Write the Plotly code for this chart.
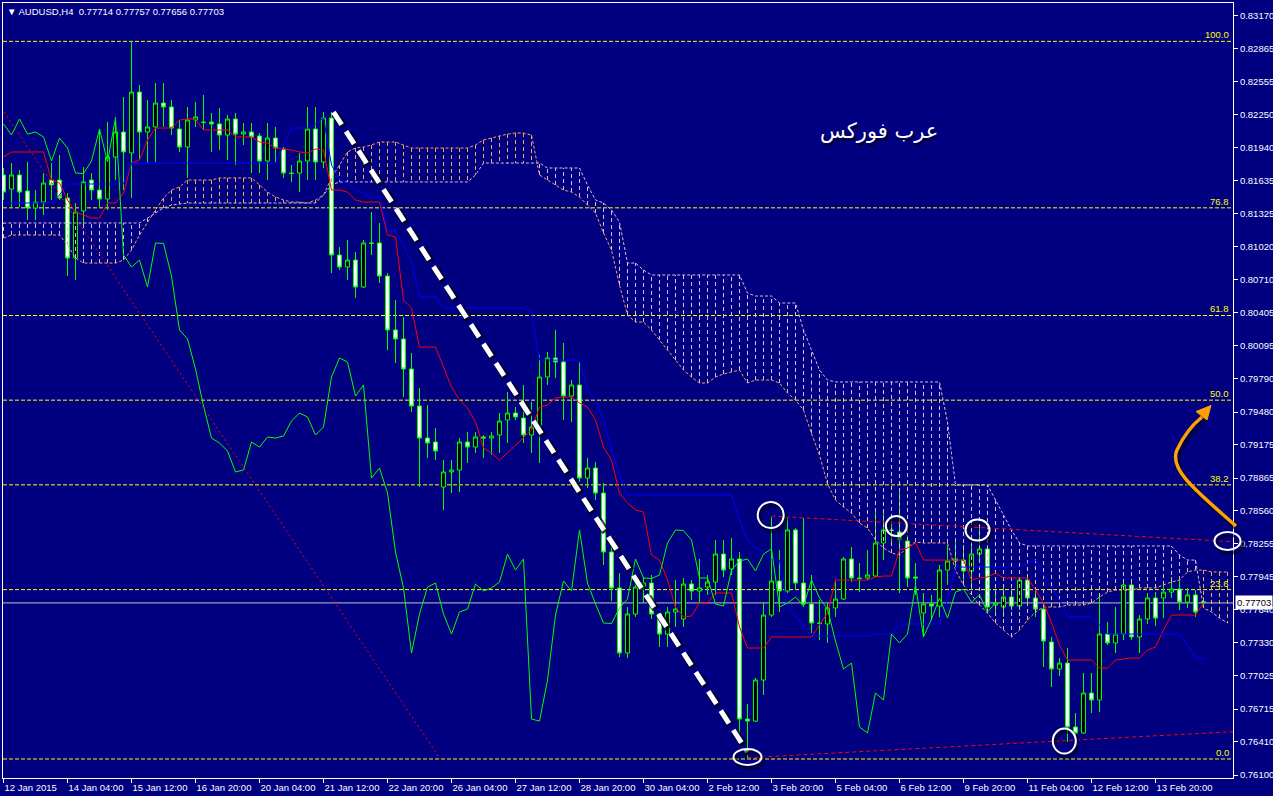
import plotly.graph_objects as go

# ---------------- data (AUDUSD H4) ----------------
bar_index = list(range(151))
x_tick_bars = list(range(0, 145, 8))
x_tick_labels = ["12 Jan 2015", "14 Jan 04:00", "15 Jan 12:00", "16 Jan 20:00", "20 Jan 04:00",
                 "21 Jan 12:00", "22 Jan 20:00", "26 Jan 04:00", "27 Jan 12:00", "28 Jan 20:00",
                 "30 Jan 04:00", "2 Feb 12:00", "3 Feb 20:00", "5 Feb 04:00", "6 Feb 12:00",
                 "9 Feb 20:00", "11 Feb 04:00", "12 Feb 12:00", "13 Feb 20:00"]

opens = [
    0.81687, 0.81556, 0.81687, 0.81538, 0.81380, 0.81435, 0.81640, 0.81640, 0.81473, 0.80914,
    0.81352, 0.81640, 0.81547, 0.81463, 0.81854, 0.82087, 0.81892, 0.82459, 0.82087, 0.82134,
    0.82357, 0.82320, 0.82115, 0.81947, 0.82199, 0.82180, 0.82180, 0.82162, 0.82059, 0.82208,
    0.82068, 0.82087, 0.82050, 0.81817, 0.82031, 0.81929, 0.81705, 0.81705, 0.81817, 0.82115,
    0.81808, 0.82217, 0.80942, 0.80830, 0.80895, 0.80644, 0.81054, 0.81054, 0.80746, 0.80244,
    0.80160, 0.79881, 0.79536, 0.79238, 0.79201, 0.78782, 0.78922, 0.78940, 0.79201, 0.79154,
    0.79248, 0.79238, 0.79266, 0.79406, 0.79471, 0.79424, 0.79266, 0.79350, 0.79806, 0.79983,
    0.79946, 0.79629, 0.79732, 0.78866, 0.78959, 0.78726, 0.78177, 0.77842, 0.77237, 0.77600,
    0.77851, 0.77888, 0.77600, 0.77413, 0.77618, 0.77553, 0.77879, 0.77814, 0.77851, 0.77898,
    0.78158, 0.78019, 0.78112, 0.76622, 0.76603, 0.76985, 0.77590, 0.77907, 0.77814, 0.78382,
    0.77888, 0.77693, 0.77516, 0.77507, 0.77656, 0.77739, 0.78112, 0.77935, 0.77935, 0.77953,
    0.78261, 0.78382, 0.78363, 0.78279, 0.77944, 0.77609, 0.77693, 0.77674, 0.78009, 0.78093,
    0.78102, 0.78000, 0.78158, 0.78205, 0.77683, 0.77665, 0.77758, 0.77674, 0.77916, 0.77749,
    0.77646, 0.77339, 0.77088, 0.77143, 0.76548, 0.76492, 0.76864, 0.76799, 0.77413, 0.77330,
    0.77413, 0.77870, 0.77386, 0.77553, 0.77749, 0.77749, 0.77804, 0.77832, 0.77711, 0.77777,
    0.77714]
highs = [
    0.81752, 0.81798, 0.81733, 0.81808, 0.81547, 0.81705, 0.81798, 0.81873, 0.81519, 0.81426,
    0.81761, 0.81705, 0.82106, 0.82180, 0.82227, 0.82413, 0.82934, 0.82525, 0.82385, 0.82543,
    0.82543, 0.82385, 0.82199, 0.82320, 0.82366, 0.82432, 0.82264, 0.82311, 0.82245, 0.82264,
    0.82171, 0.82171, 0.82078, 0.82171, 0.82134, 0.81947, 0.81780, 0.81892, 0.82320, 0.82320,
    0.82273, 0.82273, 0.81016, 0.81082, 0.80970, 0.81082, 0.81342, 0.81240, 0.80774, 0.80523,
    0.80365, 0.80030, 0.79704, 0.79545, 0.79331, 0.79033, 0.79033, 0.79238, 0.79294, 0.79294,
    0.79266, 0.79294, 0.79471, 0.79666, 0.79527, 0.79732, 0.79573, 0.80011, 0.80039, 0.80244,
    0.80123, 0.79778, 0.79946, 0.79052, 0.79015, 0.78819, 0.78223, 0.77981, 0.77665, 0.77944,
    0.77944, 0.77963, 0.77609, 0.77665, 0.77916, 0.77935, 0.77916, 0.78112, 0.77963, 0.78289,
    0.78289, 0.78307, 0.78177, 0.76762, 0.77004, 0.77711, 0.78503, 0.78195, 0.78503, 0.78400,
    0.78493, 0.77963, 0.77730, 0.77702, 0.77916, 0.78130, 0.78223, 0.78074, 0.78195, 0.78568,
    0.78568, 0.78428, 0.78754, 0.78335, 0.78074, 0.77795, 0.77777, 0.78056, 0.78242, 0.78289,
    0.78242, 0.78261, 0.78410, 0.78242, 0.77823, 0.77851, 0.77823, 0.77944, 0.77944, 0.77823,
    0.77665, 0.77386, 0.77190, 0.77283, 0.76678, 0.77050, 0.77050, 0.77777, 0.77525, 0.77665,
    0.77916, 0.77916, 0.77590, 0.77795, 0.77804, 0.77888, 0.77944, 0.77916, 0.77842, 0.77823,
    0.77757]
lows = [
    0.81454, 0.81389, 0.81389, 0.81268, 0.81268, 0.81314, 0.81454, 0.81454, 0.80746, 0.80709,
    0.81203, 0.81454, 0.81380, 0.81361, 0.81640, 0.81547, 0.81473, 0.81826, 0.81798, 0.81808,
    0.82134, 0.82059, 0.81901, 0.81659, 0.82134, 0.82106, 0.81901, 0.81919, 0.81826, 0.81780,
    0.81966, 0.81705, 0.81705, 0.81640, 0.81798, 0.81659, 0.81622, 0.81528, 0.81640, 0.81640,
    0.81752, 0.80774, 0.80802, 0.80709, 0.80542, 0.80635, 0.80942, 0.80681, 0.80057, 0.79936,
    0.79620, 0.79480, 0.78782, 0.79052, 0.79033, 0.78568, 0.78726, 0.78735, 0.79005, 0.79099,
    0.79052, 0.79080, 0.79099, 0.79192, 0.79406, 0.79192, 0.79099, 0.79005, 0.79732, 0.79797,
    0.79406, 0.79387, 0.78829, 0.78773, 0.78661, 0.78056, 0.77721, 0.77199, 0.77190, 0.77572,
    0.77702, 0.77553, 0.77292, 0.77292, 0.77479, 0.77479, 0.77730, 0.77702, 0.77777, 0.77777,
    0.77944, 0.77963, 0.76492, 0.76259, 0.76594, 0.76846, 0.77572, 0.77618, 0.77795, 0.77823,
    0.77665, 0.77423, 0.77358, 0.77330, 0.77572, 0.77730, 0.77898, 0.77804, 0.77916, 0.77944,
    0.78102, 0.78242, 0.77795, 0.77851, 0.77777, 0.77386, 0.77544, 0.77572, 0.77870, 0.78009,
    0.77870, 0.77823, 0.78102, 0.77637, 0.77590, 0.77572, 0.77637, 0.77637, 0.77683, 0.77572,
    0.77106, 0.76920, 0.77022, 0.76408, 0.76473, 0.76482, 0.76678, 0.76687, 0.77311, 0.77237,
    0.77358, 0.77358, 0.77237, 0.77507, 0.77488, 0.77562, 0.77749, 0.77637, 0.77656, 0.77572,
    0.77656]
closes = [
    0.81528, 0.81687, 0.81528, 0.81380, 0.81435, 0.81612, 0.81594, 0.81473, 0.80914, 0.81342,
    0.81622, 0.81547, 0.81463, 0.81854, 0.82087, 0.81901, 0.82459, 0.82087, 0.82134, 0.82357,
    0.82320, 0.82124, 0.81947, 0.82199, 0.82227, 0.82176, 0.82162, 0.82059, 0.82208, 0.82068,
    0.82087, 0.82041, 0.81817, 0.82031, 0.81938, 0.81705, 0.81701, 0.81817, 0.82115, 0.81808,
    0.82217, 0.80942, 0.80830, 0.80895, 0.80644, 0.81054, 0.81050, 0.80746, 0.80244, 0.80160,
    0.79881, 0.79536, 0.79238, 0.79192, 0.79117, 0.78922, 0.78940, 0.79201, 0.79154, 0.79248,
    0.79238, 0.79257, 0.79396, 0.79471, 0.79434, 0.79266, 0.79341, 0.79806, 0.79983, 0.79946,
    0.79629, 0.79732, 0.78866, 0.78959, 0.78726, 0.78177, 0.77842, 0.77237, 0.77600, 0.77851,
    0.77888, 0.77600, 0.77413, 0.77618, 0.77646, 0.77879, 0.77814, 0.77842, 0.77898, 0.78158,
    0.78009, 0.78112, 0.76622, 0.76603, 0.76985, 0.77590, 0.77907, 0.77814, 0.78382, 0.77888,
    0.77693, 0.77516, 0.77511, 0.77656, 0.77739, 0.78112, 0.77935, 0.77930, 0.77963, 0.78261,
    0.78382, 0.78377, 0.78289, 0.77935, 0.77935, 0.77693, 0.77674, 0.78009, 0.78093, 0.78112,
    0.78000, 0.78158, 0.78205, 0.77665, 0.77702, 0.77758, 0.77674, 0.77916, 0.77749, 0.77646,
    0.77348, 0.77088, 0.77143, 0.76548, 0.76492, 0.76864, 0.76799, 0.77413, 0.77330, 0.77413,
    0.77870, 0.77386, 0.77553, 0.77749, 0.77562, 0.77804, 0.77832, 0.77711, 0.77777, 0.77618,
    0.77703]

# Ichimoku (9, 26, 52)
tenkan = [
    0.81854, 0.81901, 0.81901, 0.81901, 0.81901, 0.81901, 0.81640, 0.81612, 0.81454, 0.81342,
    0.81314, 0.81286, 0.81286, 0.81426, 0.81426, 0.81519, 0.81798, 0.81826, 0.82013, 0.82124,
    0.82124, 0.82124, 0.82199, 0.82208, 0.82208, 0.82106, 0.82106, 0.82106, 0.82106, 0.82041,
    0.82041, 0.82041, 0.81994, 0.81985, 0.81938, 0.81929, 0.81919, 0.81901, 0.81892, 0.81929,
    0.81919, 0.81547, 0.81547, 0.81528, 0.81454, 0.81435, 0.81435, 0.81435, 0.81128, 0.81110,
    0.80523, 0.80449, 0.80085, 0.80085, 0.80085, 0.79899, 0.79713, 0.79592, 0.79518, 0.79387,
    0.79145, 0.79099, 0.79033, 0.79099, 0.79173, 0.79238, 0.79313, 0.79527, 0.79545, 0.79611,
    0.79620, 0.79620, 0.79564, 0.79527, 0.79406, 0.79154, 0.79033, 0.78726, 0.78633, 0.78568,
    0.78549, 0.78149, 0.78102, 0.77916, 0.77665, 0.77572, 0.77581, 0.77702, 0.77702, 0.77795,
    0.77795, 0.77795, 0.77479, 0.77283, 0.77283, 0.77283, 0.77386, 0.77386, 0.77386, 0.77386,
    0.77386, 0.77386, 0.77497, 0.77609, 0.77916, 0.77916, 0.77916, 0.77916, 0.77916, 0.77944,
    0.77953, 0.77953, 0.78195, 0.78214, 0.78261, 0.78102, 0.78102, 0.78102, 0.78102, 0.78102,
    0.78102, 0.77916, 0.77935, 0.77944, 0.77981, 0.77935, 0.77935, 0.77935, 0.77935, 0.77823,
    0.77702, 0.77516, 0.77311, 0.77171, 0.77171, 0.77171, 0.77171, 0.77097, 0.77097, 0.77171,
    0.77181, 0.77190, 0.77190, 0.77264, 0.77292, 0.77451, 0.77590, 0.77590, 0.77590, 0.77590,
    0.77702]
kijun = [
    0.81426, 0.81426, 0.81426, 0.81426, 0.81426, 0.81426, 0.81426, 0.81501, 0.81603, 0.81603,
    0.81603, 0.81603, 0.81603, 0.81603, 0.81603, 0.81603, 0.81798, 0.81798, 0.81798, 0.81798,
    0.81798, 0.81798, 0.81798, 0.81798, 0.81798, 0.81798, 0.81798, 0.81798, 0.81798, 0.81798,
    0.81798, 0.81798, 0.81798, 0.81798, 0.81798, 0.81966, 0.82124, 0.82124, 0.82124, 0.82162,
    0.82217, 0.81780, 0.81640, 0.81612, 0.81547, 0.81519, 0.81482, 0.81482, 0.81175, 0.81156,
    0.81035, 0.80877, 0.80551, 0.80551, 0.80551, 0.80449, 0.80449, 0.80449, 0.80449, 0.80449,
    0.80449, 0.80449, 0.80449, 0.80449, 0.80449, 0.80449, 0.80411, 0.79964, 0.79964, 0.79964,
    0.79964, 0.79964, 0.79964, 0.79685, 0.79592, 0.79406, 0.79126, 0.78894, 0.78708, 0.78708,
    0.78708, 0.78708, 0.78708, 0.78708, 0.78708, 0.78708, 0.78708, 0.78708, 0.78708, 0.78708,
    0.78708, 0.78708, 0.78475, 0.78289, 0.78214, 0.78177, 0.78102, 0.78102, 0.77665, 0.77590,
    0.77479, 0.77395, 0.77395, 0.77395, 0.77395, 0.77395, 0.77395, 0.77395, 0.77395, 0.77413,
    0.77413, 0.77413, 0.77507, 0.77507, 0.77507, 0.77507, 0.77507, 0.77507, 0.77730, 0.78037,
    0.78037, 0.78037, 0.78037, 0.78037, 0.78037, 0.78037, 0.78037, 0.78037, 0.78074, 0.78102,
    0.77963, 0.77842, 0.77730, 0.77572, 0.77572, 0.77572, 0.77572, 0.77497, 0.77413, 0.77413,
    0.77413, 0.77413, 0.77413, 0.77413, 0.77413, 0.77413, 0.77413, 0.77413, 0.77311, 0.77199,
    0.77181]
span_bars = list(range(154))
span_a = [
    0.81100, 0.81128, 0.81128, 0.81128, 0.81128, 0.81128, 0.81128, 0.81128, 0.81035, 0.80914,
    0.80867, 0.80867, 0.80867, 0.80867, 0.80867, 0.80895, 0.80988, 0.81128, 0.81249, 0.81361,
    0.81473, 0.81547, 0.81575, 0.81640, 0.81640, 0.81640, 0.81640, 0.81659, 0.81659, 0.81659,
    0.81659, 0.81659, 0.81594, 0.81528, 0.81482, 0.81454, 0.81435, 0.81435, 0.81426, 0.81454,
    0.81501, 0.81659, 0.81780, 0.81901, 0.81938, 0.81947, 0.81966, 0.81994, 0.81994, 0.81994,
    0.81966, 0.81938, 0.81938, 0.81938, 0.81938, 0.81938, 0.81938, 0.81938, 0.81938, 0.81966,
    0.82013, 0.82031, 0.82050, 0.82068, 0.82078, 0.82078, 0.82059, 0.81687, 0.81640, 0.81594,
    0.81547, 0.81528, 0.81482, 0.81407, 0.81333, 0.81147, 0.80988, 0.80663, 0.80383, 0.80318,
    0.80318, 0.80244, 0.80151, 0.80057, 0.79964, 0.79871, 0.79806, 0.79750, 0.79750, 0.79806,
    0.79834, 0.79853, 0.79871, 0.79750, 0.79778, 0.79778, 0.79778, 0.79750, 0.79657, 0.79592,
    0.79499, 0.79280, 0.79080, 0.78810, 0.78661, 0.78596, 0.78540, 0.78447, 0.78400, 0.78289,
    0.78214, 0.78168, 0.78149, 0.78223, 0.78270, 0.78261, 0.78261, 0.78261, 0.78261, 0.78009,
    0.77870, 0.77777, 0.77683, 0.77609, 0.77516, 0.77451, 0.77386, 0.77451, 0.77544, 0.77618,
    0.77665, 0.77665, 0.77665, 0.77683, 0.77683, 0.77683, 0.77702, 0.77758, 0.77804, 0.77823,
    0.77823, 0.77823, 0.77842, 0.77842, 0.77842, 0.77870, 0.77898, 0.77916, 0.77991, 0.78009,
    0.78009, 0.77991, 0.77991, 0.77991]
span_b = [
    0.81240, 0.81240, 0.81240, 0.81240, 0.81240, 0.81240, 0.81240, 0.81240, 0.81240, 0.81240,
    0.81240, 0.81240, 0.81240, 0.81240, 0.81240, 0.81240, 0.81240, 0.81240, 0.81286, 0.81333,
    0.81380, 0.81407, 0.81417, 0.81426, 0.81426, 0.81426, 0.81426, 0.81426, 0.81426, 0.81426,
    0.81426, 0.81426, 0.81426, 0.81426, 0.81426, 0.81426, 0.81426, 0.81426, 0.81426, 0.81426,
    0.81501, 0.81594, 0.81622, 0.81622, 0.81622, 0.81622, 0.81622, 0.81622, 0.81622, 0.81622,
    0.81622, 0.81622, 0.81622, 0.81622, 0.81622, 0.81622, 0.81622, 0.81622, 0.81622, 0.81687,
    0.81798, 0.81798, 0.81798, 0.81798, 0.81798, 0.81798, 0.81798, 0.81798, 0.81752, 0.81752,
    0.81752, 0.81752, 0.81752, 0.81594, 0.81454, 0.81426, 0.81361, 0.81249, 0.80867, 0.80867,
    0.80802, 0.80756, 0.80756, 0.80756, 0.80756, 0.80756, 0.80756, 0.80756, 0.80756, 0.80756,
    0.80756, 0.80756, 0.80756, 0.80588, 0.80560, 0.80560, 0.80560, 0.80495, 0.80495, 0.80495,
    0.80244, 0.80057, 0.79871, 0.79778, 0.79760, 0.79760, 0.79760, 0.79760, 0.79760, 0.79760,
    0.79760, 0.79760, 0.79760, 0.79760, 0.79760, 0.79760, 0.79760, 0.79760, 0.79387, 0.78801,
    0.78801, 0.78801, 0.78801, 0.78801, 0.78661, 0.78521, 0.78382, 0.78261, 0.78233, 0.78233,
    0.78233, 0.78233, 0.78233, 0.78233, 0.78233, 0.78233, 0.78233, 0.78233, 0.78233, 0.78233,
    0.78233, 0.78233, 0.78233, 0.78233, 0.78233, 0.78233, 0.78233, 0.78149, 0.78102, 0.78102,
    0.77656, 0.77618, 0.77562, 0.77516]
chikou_shift = 26

price_ticks = [0.83170, 0.82865, 0.82555, 0.82250, 0.81940, 0.81635, 0.81325, 0.81020,
               0.80710, 0.80405, 0.80095, 0.79790, 0.79480, 0.79175, 0.78865, 0.78560,
               0.78255, 0.77945, 0.77640, 0.77330, 0.77025, 0.76715, 0.76410, 0.76100]
last_ohlc = ["0.77714", "0.77757", "0.77656", "0.77703"]
current_price = 0.77703

fib_high = 0.82931
fib_low = 0.76250
fib_levels = [100.0, 76.8, 61.8, 50.0, 38.2, 23.6, 0.0]
fib_anchor_bars = [-5.9, 54.6]

downtrend_bars = [41.25, 93.0]
downtrend_prices = [0.82273, 0.76315]
upper_line_bars = [96.0, 153.75]
upper_line_prices = [0.78512, 0.78273]
lower_line_bars = [93.0, 153.75]
lower_line_prices = [0.76262, 0.76505]

mark_bars = [95.9, 111.6, 121.75, 153.0, 132.6, 93.0]
mark_prices = [0.78521, 0.78419, 0.78382, 0.78279, 0.76417, 0.76268]
mark_radius_px = [(13, 13), (10.5, 10), (12, 10.5), (13, 9), (11.5, 12.5), (14, 8)]

brand_text = "عرب فوركس"

# ---------------- styling ----------------
BG = "#000080"
FONT = "Liberation Sans, Arial, sans-serif"
X_RANGE = [-0.0625, 153.6875]
Y_RANGE = [0.76073, 0.83288]
PLOT_W, PLOT_H = 1230, 775


def paper_x(b):
    return (b - X_RANGE[0]) / (X_RANGE[1] - X_RANGE[0])


def paper_y(p):
    return (p - Y_RANGE[0]) / (Y_RANGE[1] - Y_RANGE[0])


fig = go.Figure()

fig.add_trace(go.Candlestick(
    x=bar_index, open=opens, high=highs, low=lows, close=closes,
    increasing=dict(line=dict(color="#00FF00", width=1), fillcolor="#000000"),
    decreasing=dict(line=dict(color="#00FF00", width=1), fillcolor="#FFFFFF"),
    whiskerwidth=0, hoverinfo="skip", showlegend=False))

# cloud hatch
hx_a, hy_a, hx_b, hy_b = [], [], [], []
for b, a, s in zip(span_bars, span_a, span_b):
    if a >= s:
        hx_a += [b, b, None]
        hy_a += [a, s, None]
    else:
        hx_b += [b, b, None]
        hy_b += [a, s, None]
fig.add_trace(go.Scatter(x=hx_a, y=hy_a, mode="lines", hoverinfo="skip", showlegend=False,
                         line=dict(color="#F4A460", width=1, dash="4px,3px")))
fig.add_trace(go.Scatter(x=hx_b, y=hy_b, mode="lines", hoverinfo="skip", showlegend=False,
                         line=dict(color="#D8BFD8", width=1, dash="4px,3px")))
fig.add_trace(go.Scatter(x=span_bars, y=span_a, mode="lines", hoverinfo="skip", showlegend=False,
                         line=dict(color="#F4A460", width=1, dash="3px,2px")))
fig.add_trace(go.Scatter(x=span_bars, y=span_b, mode="lines", hoverinfo="skip", showlegend=False,
                         line=dict(color="#D8BFD8", width=1, dash="3px,2px")))

# Tenkan / Kijun / Chikou
fig.add_trace(go.Scatter(x=bar_index, y=tenkan, mode="lines", hoverinfo="skip", showlegend=False,
                         line=dict(color="#FF0000", width=1)))
fig.add_trace(go.Scatter(x=bar_index, y=kijun, mode="lines", hoverinfo="skip", showlegend=False,
                         line=dict(color="#0000FF", width=1)))
fig.add_trace(go.Scatter(x=bar_index[:len(closes) - chikou_shift], y=closes[chikou_shift:],
                         mode="lines", hoverinfo="skip", showlegend=False,
                         line=dict(color="#00FF00", width=1)))

# Fibonacci diagonal and red trend lines
fig.add_trace(go.Scatter(x=fib_anchor_bars, y=[fib_high, fib_low], mode="lines", hoverinfo="skip",
                         showlegend=False, line=dict(color="#FF0000", width=1, dash="2px,3px")))
fig.add_trace(go.Scatter(x=upper_line_bars, y=upper_line_prices, mode="lines", hoverinfo="skip",
                         showlegend=False, line=dict(color="#FF0000", width=1, dash="4px,3px")))
fig.add_trace(go.Scatter(x=lower_line_bars, y=lower_line_prices, mode="lines", hoverinfo="skip",
                         showlegend=False, line=dict(color="#FF0000", width=1, dash="4px,3px")))

# white down-trend line with shadow
dxs = 2.0 / (PLOT_W / (X_RANGE[1] - X_RANGE[0]))
dys = 2.0 * (Y_RANGE[1] - Y_RANGE[0]) / PLOT_H
fig.add_trace(go.Scatter(x=[b + dxs for b in downtrend_bars], y=[p - dys for p in downtrend_prices],
                         mode="lines", hoverinfo="skip", showlegend=False,
                         line=dict(color="rgba(0,0,30,0.75)", width=8, dash="15px,8px")))
fig.add_trace(go.Scatter(x=downtrend_bars, y=downtrend_prices, mode="lines", hoverinfo="skip",
                         showlegend=False, line=dict(color="#FFFFFF", width=5, dash="15px,8px")))

shapes = []
annotations = []

# Fibonacci levels
for lvl in fib_levels:
    price = fib_low + (fib_high - fib_low) * lvl / 100.0
    shapes.append(dict(type="line", xref="paper", yref="y", x0=0, x1=1, y0=price, y1=price,
                       line=dict(color="#FFFF00", width=1, dash="4px,2px"), layer="below"))
    annotations.append(dict(xref="paper", yref="y", x=1, y=price, xanchor="right", yanchor="bottom",
                            xshift=-2, yshift=-1, showarrow=False, text=f"{lvl:.1f}",
                            font=dict(family=FONT, size=9.5, color="#FFFF00")))

# current price line
shapes.append(dict(type="line", xref="paper", yref="y", x0=0, x1=1, y0=current_price, y1=current_price,
                   line=dict(color="#C0C0C0", width=1), layer="below"))

# ellipse marks
for b, p, (rx, ry) in zip(mark_bars, mark_prices, mark_radius_px):
    cx, cy = paper_x(b), paper_y(p)
    rxp, ryp = rx / PLOT_W, ry / PLOT_H
    sx, sy = 2.0 / PLOT_W, -3.0 / PLOT_H
    shapes.append(dict(type="circle", xref="paper", yref="paper",
                       x0=cx - rxp + sx, x1=cx + rxp + sx, y0=cy - ryp + sy, y1=cy + ryp + sy,
                       line=dict(color="rgba(0,0,40,0.6)", width=4)))
    shapes.append(dict(type="circle", xref="paper", yref="paper",
                       x0=cx - rxp, x1=cx + rxp, y0=cy - ryp, y1=cy + ryp,
                       line=dict(color="#FFFFFF", width=2)))

# orange arrow (hand-drawn decoration)
arrow_path = ("M 1.00244,0.32516 C 0.97317,0.36645 0.94715,0.39742 0.95447,0.42323 "
              "C 0.95935,0.44000 0.96667,0.45548 0.97480,0.46581")
arrow_shadow = ("M 1.00406,0.32129 C 0.97480,0.36258 0.94878,0.39355 0.95610,0.41936 "
                "C 0.96098,0.43613 0.96830,0.45161 0.97643,0.46194")
shapes.append(dict(type="path", xref="paper", yref="paper", path=arrow_shadow,
                   line=dict(color="rgba(0,0,40,0.55)", width=6)))
shapes.append(dict(type="path", xref="paper", yref="paper", path=arrow_path,
                   line=dict(color="#FFA200", width=3.5)))
shapes.append(dict(type="path", xref="paper", yref="paper",
                   path="M 0.98211,0.48065 L 0.96992,0.47290 L 0.97886,0.46194 Z",
                   fillcolor="#FFA200", line=dict(color="#FFA200", width=1)))

# header
annotations.append(dict(xref="paper", yref="paper", x=(5 - 3) / PLOT_W, y=(778 - 12) / PLOT_H,
                        xanchor="left", yanchor="middle", showarrow=False,
                        text="▼ AUDUSD,H4\u00a0\u00a0" + " ".join(last_ohlc),
                        font=dict(family=FONT, size=9.5, color="#FFFFFF")))
# current price box
annotations.append(dict(xref="paper", yref="y", x=1, y=current_price, xanchor="left", yanchor="middle",
                        xshift=2, showarrow=False, text=f"{current_price:.5f}", bgcolor="#FFFFFF",
                        borderpad=1, font=dict(family=FONT, size=9.5, color="#000000")))
# brand text with shadow
for dx, dy, col in [(2, -3, "rgba(0,0,30,0.8)"), (0, 0, "#FFFFFF")]:
    annotations.append(dict(xref="paper", yref="paper", x=(879 - 3) / PLOT_W, y=(778 - 131) / PLOT_H,
                            xanchor="center", yanchor="middle", xshift=dx, yshift=dy, showarrow=False,
                            text=brand_text, font=dict(family="DejaVu Sans", size=21, color=col)))

fig.update_layout(
    width=1273, height=796,
    margin=dict(l=3, r=40, t=3, b=18, pad=0),
    paper_bgcolor=BG, plot_bgcolor=BG,
    showlegend=False, boxgap=0.28,
    shapes=shapes, annotations=annotations,
    xaxis=dict(range=X_RANGE, showgrid=False, zeroline=False, showline=True, linecolor="#FFFFFF",
               linewidth=1, mirror=True, ticks="outside", ticklen=4, tickcolor="#FFFFFF",
               tickvals=x_tick_bars, ticktext=x_tick_labels, ticklabelposition="outside right",
               tickangle=0, ticklabelstandoff=1,
               tickfont=dict(family=FONT, size=9.5, color="#FFFFFF"), rangeslider=dict(visible=False),
               automargin=False, fixedrange=True),
    yaxis=dict(range=Y_RANGE, side="right", showgrid=False, zeroline=False, showline=True,
               linecolor="#FFFFFF", linewidth=1, mirror=True, ticks="outside", ticklen=4,
               tickcolor="#FFFFFF", tickvals=price_ticks, ticktext=[f"{v:.5f}" for v in price_ticks],
               tickfont=dict(family=FONT, size=9.5, color="#FFFFFF"), automargin=False, fixedrange=True),
)

fig.write_html("out.html", include_plotlyjs=True, full_html=True,
               config={"displayModeBar": False},
               post_script="document.body.style.margin='0';document.body.style.overflow='hidden';")
